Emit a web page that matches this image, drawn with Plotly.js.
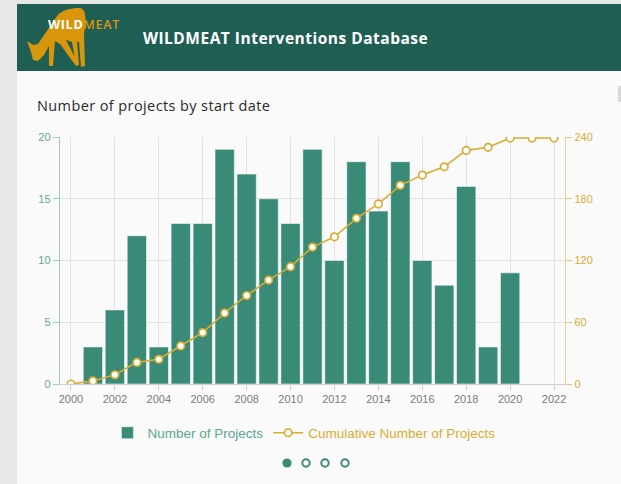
<!DOCTYPE html>
<html>
<head>
<meta charset="utf-8">
<script src="https://cdn.plot.ly/plotly-3.0.1.min.js"></script>
<style>
  html, body { margin:0; padding:0; width:621px; height:484px; overflow:hidden; background:#e7e7e7; }
  #card { position:absolute; left:17px; top:71px; width:604px; height:413px; background:#fafafa; }
  #header { position:absolute; left:17px; top:4px; width:604px; height:67px; background:#1f5f53; }
  #htitle { position:absolute; left:143px; top:27px; font-family:"Open Sans", Lato, sans-serif; font-weight:700; font-size:15.5px; color:#ffffff; letter-spacing:0.5px; }
  #subtitle { position:absolute; left:37px; top:96px; font-family:"Open Sans", Lato, sans-serif; font-size:14.5px; color:#2a2a2a; letter-spacing:0.4px; }
  #logo { position:absolute; left:0; top:0; }
  #scroll { position:absolute; left:618px; top:86px; width:3px; height:16px; background:#d8d8d8; }
  #chart { position:absolute; left:0; top:0; width:621px; height:484px; }
  #dots { position:absolute; left:0; top:0; }
</style>
</head>
<body>
<div id="card"></div>
<div id="header"></div>
<svg id="logo" width="140" height="72">
  <path d="M38,44 L57,16 C62,10 70,8 80,8 C85,9 86,15 85,24 L84,36 L85,66 L81,67 L79,42 L77,42 L79,64 L76,65 L72,42 L66,40 L79,65 L76,66 L60,44 L55,41 L53,66 L49,66 L49,46 L44,55 L38,61 L33,60 L31,52 L27,41 L33,45 Z" fill="#d9960b"/>
  <text x="48" y="29" font-family="'Open Sans', Lato, sans-serif" font-weight="700" font-size="12.5" fill="#ffffff" letter-spacing="0.7">WILD<tspan fill="#d9960b" font-weight="600">MEAT</tspan></text>
</svg>
<div id="htitle">WILDMEAT Interventions Database</div>
<div id="subtitle">Number of projects by start date</div>
<div id="scroll"></div>
<div id="chart"></div>
<svg id="dots" width="621" height="484" style="pointer-events:none">
  <circle cx="287" cy="463" r="4.6" fill="#3a8a78"/>
  <circle cx="306" cy="463" r="3.7" fill="none" stroke="#3a8a78" stroke-width="2"/>
  <circle cx="325" cy="463" r="3.7" fill="none" stroke="#3a8a78" stroke-width="2"/>
  <circle cx="345" cy="463" r="3.7" fill="none" stroke="#3a8a78" stroke-width="2"/>
</svg>
<script>
const years = [2000,2001,2002,2003,2004,2005,2006,2007,2008,2009,2010,2011,2012,2013,2014,2015,2016,2017,2018,2019,2020,2021,2022];
const projects = [0,3,6,12,3,13,13,19,17,15,13,19,10,18,14,18,10,8,16,3,9,0,0];
const cumulative = [0,3,9,21,24,37,50,69,86,101,114,133,143,161,175,193,203,211,227,230,239,239,239];
const leftTicks = [0,5,10,15,20];
const rightTicks = [0,60,120,180,240];
const xTicks = [2000,2002,2004,2006,2008,2010,2012,2014,2016,2018,2020,2022];

const teal = '#3a8a78';
const gold = '#d9ad34';

const traces = [
  {
    type:'bar', x:years, y:projects, name:'<span style="color:#5aa593">Number of Projects</span>',
    marker:{color:teal, line:{color:'rgba(255,255,255,0.55)', width:1}},
    width:0.88, yaxis:'y', hoverinfo:'x+y'
  },
  {
    type:'scatter', mode:'lines+markers', x:years, y:cumulative, yaxis:'y2',
    name:'<span style="color:#d9ad34">Cumulative Number of Projects</span>',
    line:{color:gold, width:1.6},
    marker:{symbol:'circle', size:7.5, color:'#ffffff', line:{color:gold, width:1.7}}
  }
];

const layout = {
  width:621, height:484,
  margin:{l:60, r:56, t:137, b:100},
  paper_bgcolor:'rgba(0,0,0,0)', plot_bgcolor:'rgba(0,0,0,0)',
  font:{family:'"Liberation Sans", Arial, sans-serif', size:11, color:'#777'},
  showlegend:true,
  legend:{orientation:'h', x:0.483, xanchor:'center', y:-0.198, yanchor:'middle',
          font:{size:13.5, family:'"Liberation Sans", Arial, sans-serif'}, itemwidth:30, traceorder:'normal', bgcolor:'rgba(0,0,0,0)'},
  bargap:0.12,
  xaxis:{
    range:[1999.5, 2022.5], tickmode:'array', tickvals:xTicks, ticktext:xTicks.map(String),
    showgrid:true, gridcolor:'#e2e2e2', gridwidth:1,
    showline:true, linecolor:'#cfcfcf', linewidth:1,
    ticks:'outside', ticklen:5, tickcolor:'#cfcfcf',
    tickfont:{size:11, color:'#7a7a7a'}, zeroline:false, fixedrange:true
  },
  yaxis:{
    range:[0,20], tickmode:'array', tickvals:leftTicks, ticktext:leftTicks.map(String),
    showgrid:true, gridcolor:'#e2e2e2', gridwidth:1,
    showline:true, linecolor:'#9fcbbf', linewidth:1.2,
    ticks:'outside', ticklen:6, tickcolor:'#9fcbbf',
    tickfont:{size:11, color:'#62a896'}, zeroline:false, fixedrange:true
  },
  yaxis2:{
    range:[0,240], overlaying:'y', side:'right', tickmode:'array', tickvals:rightTicks, ticktext:rightTicks.map(String),
    showgrid:false, showline:true, linecolor:'#e2d3a4', linewidth:1.2,
    ticks:'outside', ticklen:6, tickcolor:'#e2c777',
    tickfont:{size:11, color:gold}, zeroline:false, fixedrange:true
  }
};

Plotly.newPlot('chart', traces, layout, {displayModeBar:false, staticPlot:true});
</script>
</body>
</html>
